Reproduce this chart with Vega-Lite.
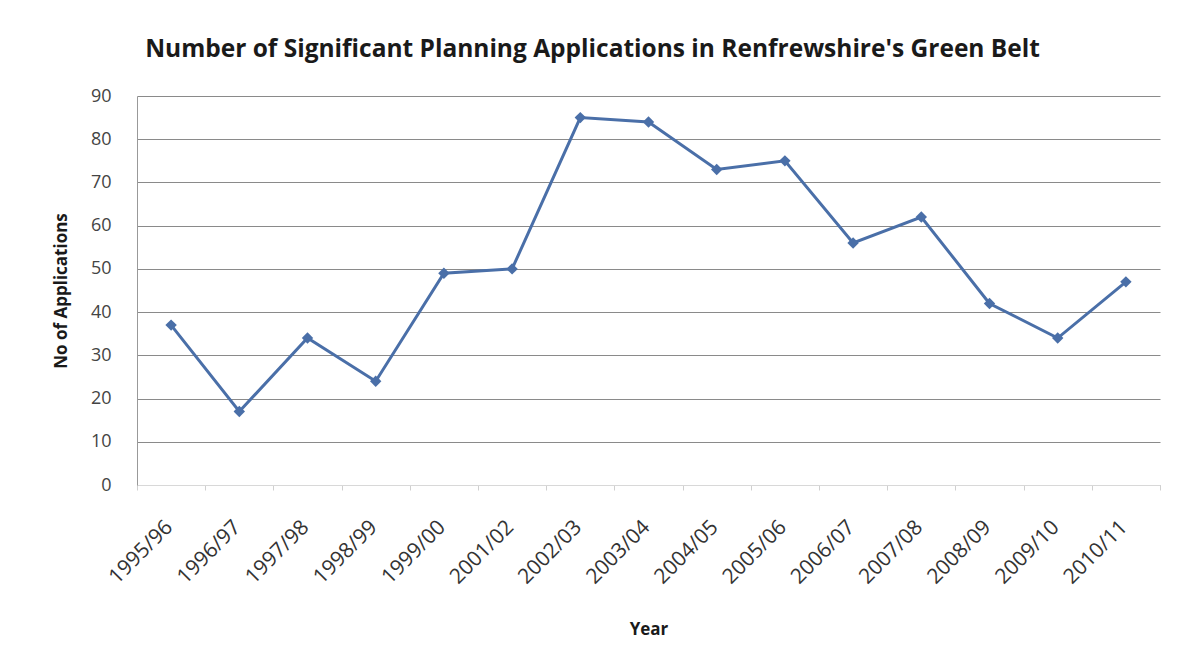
{
  "$schema": "https://vega.github.io/schema/vega-lite/v6.json",
  "autosize": "none",
  "width": 1023,
  "height": 389,
  "padding": {"left": 137, "top": 96, "right": 26, "bottom": 183},
  "background": "white",
  "title": {
    "text": "Number of Significant  Planning Applications in Renfrewshire's Green Belt",
    "font": "Open Sans",
    "fontSize": 24.5,
    "fontWeight": "bold",
    "color": "#1a1a1a",
    "anchor": "middle",
    "offset": 25,
    "dx": -56
  },
  "config": {
    "view": {"stroke": null},
    "font": "Open Sans"
  },
  "data": {
    "values": [
      {"year": "1995/96", "apps": 37},
      {"year": "1996/97", "apps": 17},
      {"year": "1997/98", "apps": 34},
      {"year": "1998/99", "apps": 24},
      {"year": "1999/00", "apps": 49},
      {"year": "2001/02", "apps": 50},
      {"year": "2002/03", "apps": 85},
      {"year": "2003/04", "apps": 84},
      {"year": "2004/05", "apps": 73},
      {"year": "2005/06", "apps": 75},
      {"year": "2006/07", "apps": 56},
      {"year": "2007/08", "apps": 62},
      {"year": "2008/09", "apps": 42},
      {"year": "2009/10", "apps": 34},
      {"year": "2010/11", "apps": 47}
    ]
  },
  "encoding": {
    "x": {
      "field": "year",
      "type": "ordinal",
      "sort": null,
      "scale": {"type": "band", "paddingInner": 0, "paddingOuter": 0},
      "axis": {
        "title": "Year",
        "titleFont": "Open Sans",
        "titleFontSize": 17,
        "titleFontWeight": "bold",
        "titleColor": "#1a1a1a",
        "titlePadding": 34,
        "labelAngle": -45,
        "labelFontSize": 21,
        "labelColor": "#333333",
        "labelPadding": 26,
        "labelOffset": -10,
        "domainColor": "#d8d8d8",
        "tickColor": "#d0d0d0",
        "tickSize": 5,
        "tickBand": "extent",
        "grid": false
      }
    },
    "y": {
      "field": "apps",
      "type": "quantitative",
      "scale": {"domain": [0, 90], "nice": false},
      "axis": {
        "title": "No of Applications",
        "titleFont": "Open Sans",
        "titleFontSize": 17,
        "titleFontWeight": "bold",
        "titleColor": "#1a1a1a",
        "titlePadding": 20,
        "values": [0, 10, 20, 30, 40, 50, 60, 70, 80, 90],
        "labelFontSize": 18,
        "labelColor": "#444444",
        "labelPadding": 26,
        "ticks": false,
        "domain": true,
        "domainColor": "#999999",
        "grid": true,
        "gridColor": "#8a8a8a",
        "gridWidth": 1
      }
    }
  },
  "layer": [
    {
      "mark": {"type": "line", "color": "#4A6FA8", "strokeWidth": 3}
    },
    {
      "mark": {"type": "point", "shape": "diamond", "filled": true, "color": "#4A6FA8", "size": 130, "opacity": 1}
    }
  ]
}
